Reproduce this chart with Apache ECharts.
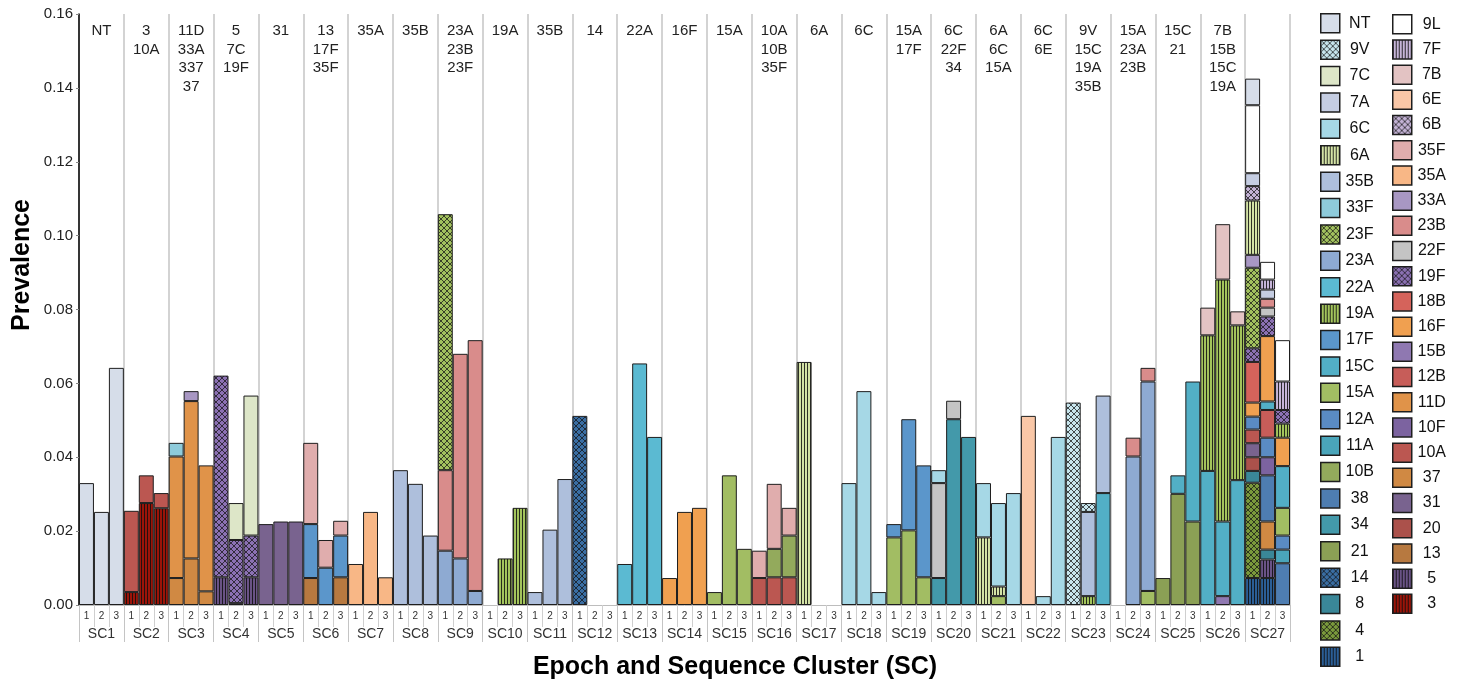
<!DOCTYPE html>
<html><head><meta charset="utf-8">
<script src="https://cdn.jsdelivr.net/npm/echarts@6/dist/echarts.min.js"></script>
<style>html,body{margin:0;padding:0;background:#fff}#c{width:1460px;height:683px}</style>
</head><body><div id="c"></div>
<script>
// ---------- categories / labels ----------
const clusters = ['SC1','SC2','SC3','SC4','SC5','SC6','SC7','SC8','SC9','SC10','SC11','SC12','SC13','SC14','SC15','SC16','SC17','SC18','SC19','SC20','SC21','SC22','SC23','SC24','SC25','SC26','SC27'];
const epochs = ['1','2','3'];
const topLabels = ['NT','3\n10A','11D\n33A\n337\n37','5\n7C\n19F','31','13\n17F\n35F','35A','35B','23A\n23B\n23F','19A','35B','14','22A','16F','15A','10A\n10B\n35F','6A','6C','15A\n17F','6C\n22F\n34','6A\n6C\n15A','6C\n6E','9V\n15C\n19A\n35B','15A\n23A\n23B','15C\n21','7B\n15B\n15C\n19A',''];
const yTicks = [0,0.02,0.04,0.06,0.08,0.10,0.12,0.14,0.16];

// stacking order (bottom -> top)
const stackOrder = ['1','3','4','5','8','13','14','20','21','31','34','37','38','10A','10B','10F','11A','11D','12A','12B','15A','15B','15C','16F','17F','18B','19A','19F','22A','22F','23A','23B','23F','33A','33F','35A','35B','35F','6A','6B','6C','6E','7A','7B','7C','7F','9L','9V','NT'];
const legendCol1 = ['NT','9V','7C','7A','6C','6A','35B','33F','23F','23A','22A','19A','17F','15C','15A','12A','11A','10B','38','34','21','14','8','4','1'];
const legendCol2 = ['9L','7F','7B','6E','6B','35F','35A','33A','23B','22F','19F','18B','16F','15B','12B','11D','10F','10A','37','31','20','13','5','3'];

const serotypeColors = {
  'NT':'#d6dde9','9V':'#c8e6ee','7C':'#dde6c8','7A':'#c5cde2','6C':'#a6d8e6','6A':'#d4e3a6','35B':'#aebfdc','33F':'#8ecbdb',
  '23F':'#a2c15e','23A':'#8eaad2','22A':'#5bbad2','19A':'#a3c45c','17F':'#5b96cb','15C':'#52afc6','15A':'#a2bd63','12A':'#5a8bc3',
  '11A':'#4aa5ba','10B':'#93aa5c','38':'#4e7db1','34':'#4399aa','21':'#8ba055','14':'#3a6ea3','8':'#3a8798','4':'#7a993c','1':'#2b5e96',
  '9L':'#ffffff','7F':'#c6b5d8','7B':'#e3c3c3','6E':'#f9c7a7','6B':'#c4b3d6','35F':'#e0adad','35A':'#f8b786','33A':'#a897c3',
  '23B':'#d98c8b','22F':'#c4c4c4','19F':'#8b71b3','18B':'#d5635b','16F':'#f0a050','15B':'#8f78b1','12B':'#c75d59','11D':'#e09349',
  '10F':'#7c63a0','10A':'#bb5751','37':'#d08943','31':'#79638f','20':'#ab514b','13':'#b77940','5':'#6a5386','3':'#9b1409'
};
const stripeTypes = ['6A','19A','1','7F','5','3'];
const crossTypes = ['9V','23F','14','4','6B','19F'];

// ---------- values: segment heights per cluster, [epoch1, epoch2, epoch3] ----------
const SC1  = {'NT':[0.0330,0.0252,0.0642]};
const SC2  = {'3':[0.0035,0.0276,0.0262],'10A':[0.0220,0.0075,0.0041]};
const SC3  = {'37':[0.0073,0.0126,0.0037],'11D':[0.0329,0.0426,0.0341],'33A':[0,0.0027,0],'33F':[0.0037,0,0]};
const SC4  = {'5':[0.0075,0.0005,0.0075],'19F':[0.0546,0.0171,0.0113],'7C':[0,0.0100,0.0379]};
const SC5  = {'31':[0.0219,0.0226,0.0226]};
const SC6  = {'13':[0.0073,0,0.0075],'17F':[0.0146,0.0101,0.0113],'35F':[0.0220,0.0075,0.0040]};
const SC7  = {'35A':[0.0111,0.0252,0.0075]};
const SC8  = {'35B':[0.0365,0.0328,0.0188]};
const SC9  = {'23A':[0.0147,0.0126,0.0038],'23B':[0.0218,0.0554,0.0679],'23F':[0.0693,0,0]};
const SC10 = {'19A':[0,0.0126,0.0263]};
const SC11 = {'35B':[0.0035,0.0204,0.0341]};
const SC12 = {'14':[0.0512,0,0]};
const SC13 = {'22A':[0.0111,0.0654,0.0455]};
const SC14 = {'16F':[0.0073,0.0252,0.0263]};
const SC15 = {'15A':[0.0035,0.0351,0.0152]};
const SC16 = {'10A':[0.0073,0.0075,0.0075],'10B':[0,0.0077,0.0113],'35F':[0.0074,0.0176,0.0075]};
const SC17 = {'6A':[0.0658,0,0]};
const SC18 = {'6C':[0.0330,0.0579,0.0035]};
const SC19 = {'15A':[0.0183,0.0202,0.0075],'17F':[0.0036,0.0301,0.0303]};
const SC20 = {'34':[0.0073,0.0503,0.0455],'22F':[0.0257,0.0050,0],'6C':[0.0035,0,0]};
const SC21 = {'15A':[0,0.0024,0],'6A':[0.0183,0.0026,0],'6C':[0.0147,0.0226,0.0303]};
const SC22 = {'6E':[0.0512,0,0],'6C':[0,0.0024,0.0455]};
const SC23 = {'15C':[0,0,0.0303],'19A':[0,0.0024,0],'35B':[0,0.0228,0.0264],'9V':[0.0548,0.0024,0]};
const SC24 = {'15A':[0,0,0.0038],'23A':[0,0.0402,0.0567],'23B':[0,0.0051,0.0037]};
const SC25 = {'21':[0.0073,0.0301,0.0226],'15C':[0,0.0050,0.0379]};
const SC26 = {'15B':[0,0.0024,0],'15C':[0.0363,0.0202,0.0338],'19A':[0.0367,0.0655,0.0419],'7B':[0.0075,0.0150,0.0038]};
const SC27 = {
  '1':[0.0073,0.0073,0],'4':[0.0258,0,0],'5':[0,0.0050,0],'8':[0.0032,0.0027,0],'20':[0.0037,0,0],'31':[0.0038,0,0],
  '37':[0,0.0076,0],'38':[0,0.0125,0.0113],'10A':[0.0037,0,0],'10F':[0,0.0049,0],'11A':[0,0,0.0037],'12A':[0.0035,0.0053,0.0038],
  '12B':[0,0.0075,0],'15A':[0,0,0.0075],'15C':[0,0.0023,0.0113],'16F':[0.0038,0.0177,0.0077],'18B':[0.0110,0,0],'19A':[0,0,0.0038],
  '19F':[0.0037,0.0053,0.0037],'22F':[0,0.0024,0],'23B':[0,0.0024,0],'23F':[0.0218,0,0],'33A':[0.0035,0,0],'6A':[0.0147,0,0],
  '6B':[0.0039,0,0],'7A':[0.0035,0.0025,0],'7F':[0,0.0027,0.0077],'9L':[0.0184,0.0048,0.0112],'NT':[0.0072,0,0]
};
const clusterData = [SC1,SC2,SC3,SC4,SC5,SC6,SC7,SC8,SC9,SC10,SC11,SC12,SC13,SC14,SC15,SC16,SC17,SC18,SC19,SC20,SC21,SC22,SC23,SC24,SC25,SC26,SC27];

// ---------- build ----------
const categories = [];
clusters.forEach(c => epochs.forEach(e => categories.push(c + '-' + e)));

function makeFill(name) {
  const bg = serotypeColors[name];
  if (stripeTypes.includes(name)) {
    const cv = document.createElement('canvas'); cv.width = 3; cv.height = 3;
    const g = cv.getContext('2d');
    g.fillStyle = bg; g.fillRect(0,0,3,3);
    g.fillStyle = 'rgba(15,15,15,0.85)'; g.fillRect(0,0,1,3);
    return {image: cv, repeat: 'repeat'};
  }
  if (crossTypes.includes(name)) {
    const cv = document.createElement('canvas'); cv.width = 6; cv.height = 6;
    const g = cv.getContext('2d');
    g.fillStyle = bg; g.fillRect(0,0,6,6);
    g.strokeStyle = 'rgba(20,20,20,0.75)'; g.lineWidth = 1;
    g.beginPath(); g.moveTo(-1,-1); g.lineTo(7,7); g.moveTo(7,-1); g.lineTo(-1,7); g.stroke();
    return {image: cv, repeat: 'repeat'};
  }
  return bg;
}

const series = stackOrder.map(name => {
  const data = [];
  clusterData.forEach(cd => {
    const arr = cd[name] || [0,0,0];
    arr.forEach(v => data.push(v > 0 ? v : '-'));
  });
  return {
    name, type: 'bar', stack: 'all', xAxisIndex: 0, yAxisIndex: 0,
    barCategoryGap: '0%', barGap: '0%',
    data,
    itemStyle: {color: makeFill(name), borderColor: '#1e1e1e', borderWidth: 1},
    emphasis: {disabled: true}
  };
});

const legendBase = {
  orient: 'vertical', icon: 'rect', itemWidth: 19, itemHeight: 19, selectedMode: false,
  padding: 0, height: 665,
  formatter: '{a|{name}}',
  textStyle: {rich: {a: {width: 30, height: 19, align: 'center', verticalAlign: 'middle', fontSize: 16, lineHeight: 19, color: '#111', fontFamily: 'Liberation Sans, Arial, sans-serif'}}},
  itemStyle: {borderColor: '#1e1e1e', borderWidth: 1.5}
};

const chart = echarts.init(document.getElementById('c'), null, {renderer: 'canvas'});
chart.setOption({
  animation: false,
  textStyle: {fontFamily: 'Liberation Sans, Arial, sans-serif'},
  grid: {left: 79, right: 170, top: 14, bottom: 78, containLabel: false},
  legend: [
    Object.assign({}, legendBase, {left: 1320, top: 13, itemGap: 5.9, data: legendCol1}),
    Object.assign({}, legendBase, {left: 1392, top: 14, itemGap: 4.7, data: legendCol2})
  ],
  graphic: [
    {type: 'text', x: 735, y: 667, silent: true,
      style: {text: 'Epoch and Sequence Cluster (SC)', font: 'bold 25px "Liberation Sans", Arial, sans-serif', fill: '#000', align: 'center', verticalAlign: 'middle'}},
    {type: 'text', x: 22, y: 265, rotation: Math.PI / 2, silent: true,
      style: {text: 'Prevalence', font: 'bold 25px "Liberation Sans", Arial, sans-serif', fill: '#000', align: 'center', verticalAlign: 'middle'}}
  ],
  xAxis: [
    {
      type: 'category', data: categories, position: 'bottom',
      axisLine: {show: true, lineStyle: {color: '#bdbdbd', width: 1}},
      axisTick: {show: true, interval: 0, length: 22, lineStyle: {color: '#cfcfcf'}},
      axisLabel: {interval: 0, fontSize: 10, color: '#333', margin: 6, formatter: (v, i) => epochs[i % 3]},
      splitLine: {show: false}
    },
    {
      type: 'category', data: clusters, position: 'bottom',
      axisLine: {show: false},
      axisTick: {show: true, interval: 0, length: 37, lineStyle: {color: '#c4c4c4'}},
      axisLabel: {interval: 0, fontSize: 14, color: '#333', margin: 22},
      splitLine: {show: true, interval: 0, lineStyle: {color: '#c4c4c4', width: 1.5}}
    },
    {
      type: 'category', data: clusters, position: 'top',
      axisLine: {show: false}, axisTick: {show: false}, splitLine: {show: false},
      axisLabel: {interval: 0, inside: true, margin: 8, fontSize: 15, lineHeight: 18.5, color: '#222', align: 'center',
        formatter: (v, i) => topLabels[i]}
    }
  ],
  yAxis: {
    type: 'value', min: yTicks[0], max: yTicks[yTicks.length - 1], interval: 0.02,
    axisLine: {show: true, lineStyle: {color: '#000', width: 1.5}},
    axisTick: {show: true, length: 3, lineStyle: {color: '#888'}},
    axisLabel: {fontSize: 15, color: '#222', margin: 6, formatter: v => v.toFixed(2)},
    splitLine: {show: false}
  },
  series
});
</script>
</body></html>
